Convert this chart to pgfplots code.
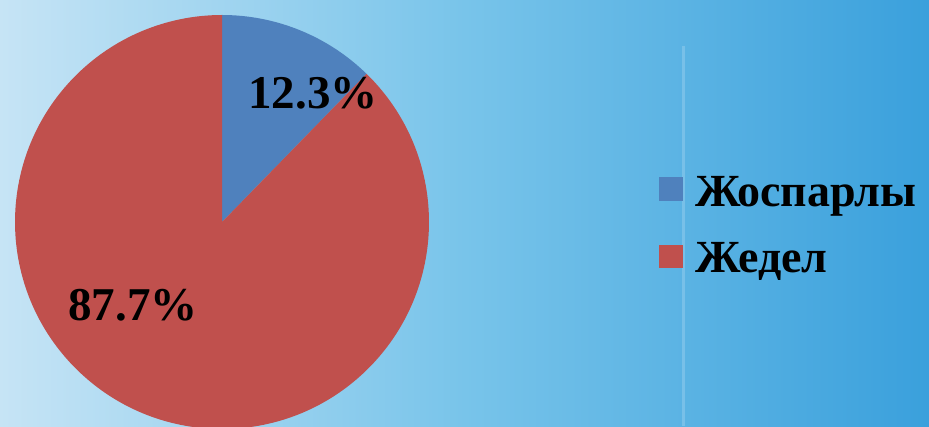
\documentclass[border=0pt]{standalone}
\usepackage{pgfplots}
\usepackage{pgfplotstable}
\pgfplotsset{compat=1.18}
\usepackage{fontspec}
\setmainfont{Liberation Serif}
\definecolor{sliceblue}{RGB}{79,129,189}
\definecolor{slicered}{RGB}{192,80,77}
\definecolor{bgleft}{RGB}{198,228,245}
\definecolor{bgmid}{RGB}{120,196,234}
\definecolor{bgright}{RGB}{58,160,220}
\pgfplotstableread{
label value
Zhosparly 12.3
Zhedel 87.7
}\piedata
\begin{document}
\begin{tikzpicture}
\clip (0,0) rectangle (929pt,426pt);
\shade[left color=bgleft, right color=bgright, middle color=bgmid] (0,0) rectangle (929pt,426pt);
\fill[white, opacity=0.18] (682pt,0) rectangle (685pt,380pt);
\pgfplotstablegetelem{0}{value}\of\piedata
\pgfmathsetmacro{\va}{\pgfplotsretval}
\pgfplotstablegetelem{1}{value}\of\piedata
\pgfmathsetmacro{\vb}{\pgfplotsretval}
\pgfmathsetmacro{\angA}{90-3.6*\va}
\begin{axis}[at={(0,0)}, anchor=south west, x=1pt, y=1pt,
  xmin=0, xmax=929, ymin=0, ymax=426, hide axis, clip=true]
\fill[sliceblue] (axis cs:222,204) -- ++(90:207pt) arc[start angle=90, end angle=\angA, radius=207pt] -- cycle;
\fill[slicered] (axis cs:222,204) -- ++(\angA:207pt) arc[start angle=\angA, end angle=-270, radius=207pt] -- cycle;
\node[anchor=base, font=\fontsize{47pt}{50pt}\selectfont\bfseries, inner sep=0pt] at (axis cs:313,317) {\pgfmathprintnumber[fixed,precision=1,fixed zerofill,assume math mode=true]{\va}\%};
\node[anchor=base, font=\fontsize{47pt}{50pt}\selectfont\bfseries, inner sep=0pt] at (axis cs:133,106) {\pgfmathprintnumber[fixed,precision=1,fixed zerofill,assume math mode=true]{\vb}\%};
\fill[sliceblue] (axis cs:659,225) rectangle (axis cs:683,249);
\fill[slicered] (axis cs:659,158) rectangle (axis cs:683,181);
\node[anchor=base west, font=\fontsize{46pt}{50pt}\selectfont\bfseries, inner sep=0pt] at (axis cs:695,219) {Жоспарлы};
\node[anchor=base west, font=\fontsize{46pt}{50pt}\selectfont\bfseries, inner sep=0pt] at (axis cs:695,153) {Жедел};
\end{axis}
\end{tikzpicture}
\end{document}
